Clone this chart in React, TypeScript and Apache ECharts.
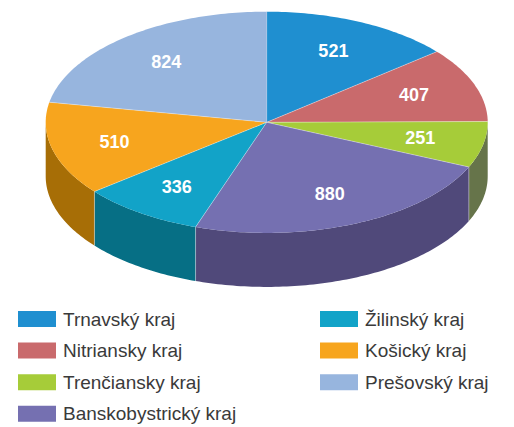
import React, { useEffect, useRef } from "react";
import * as echarts from "echarts";

const categories = [
  "Trnavský kraj",
  "Nitriansky kraj",
  "Trenčiansky kraj",
  "Banskobystrický kraj",
  "Žilinský kraj",
  "Košický kraj",
  "Prešovský kraj",
];
const values = [521, 407, 251, 880, 336, 510, 824];
const topColors = ["#1f8fd0", "#c96a6c", "#a6cc39", "#7570b1", "#12a3c8", "#f7a51e", "#97b5de"];
const sideColors = ["#155f8a", "#864647", "#66744a", "#50497a", "#066f85", "#a76e06", "#64799a"];

const CX = 266.7;
const CY = 122.3;
const RX = 221;
const RY = 110.6;
const DEPTH = 54;
const LABEL_R = 0.71;

const total = values.reduce((a, b) => a + b, 0);
const starts = values.map((_, i) => (values.slice(0, i).reduce((a, b) => a + b, 0) / total) * 2 * Math.PI);

function pt(theta: number, dy = 0): number[] {
  return [CX + RX * Math.sin(theta), CY - RY * Math.cos(theta) + dy];
}

function arc(a0: number, a1: number, dy = 0): number[][] {
  const n = Math.max(2, Math.ceil((a1 - a0) / (Math.PI / 180)));
  const out: number[][] = [];
  for (let k = 0; k <= n; k++) out.push(pt(a0 + ((a1 - a0) * k) / n, dy));
  return out;
}

const edgeStyle = { stroke: "rgba(255,255,255,0.45)", lineWidth: 0.8 };

function makeRender(i: number) {
  return (params: any, api: any) => {
    const v = api.value(0);
    const a0 = starts[i];
    const a1 = a0 + (v / total) * 2 * Math.PI;
    const children: any[] = [];
    const s0 = Math.max(a0, Math.PI / 2);
    const s1 = Math.min(a1, (3 * Math.PI) / 2);
    if (s1 > s0) {
      const upper = arc(s0, s1);
      const lower = arc(s0, s1, DEPTH).reverse();
      children.push({
        type: "polygon",
        shape: { points: upper.concat(lower) },
        style: { fill: sideColors[i] },
      });
      if (a0 >= Math.PI / 2 && a0 <= (3 * Math.PI) / 2) {
        const p = pt(a0);
        children.push({
          type: "line",
          shape: { x1: p[0], y1: p[1], x2: p[0], y2: p[1] + DEPTH },
          style: edgeStyle,
        });
      }
    }
    children.push({
      type: "polygon",
      shape: { points: [[CX, CY]].concat(arc(a0, a1)) },
      style: { fill: topColors[i] },
    });
    const p0 = pt(a0);
    children.push({
      type: "line",
      shape: { x1: CX, y1: CY, x2: p0[0], y2: p0[1] },
      style: edgeStyle,
    });
    const m = (a0 + a1) / 2;
    children.push({
      type: "text",
      x: CX + RX * LABEL_R * Math.sin(m),
      y: CY - RY * LABEL_R * Math.cos(m),
      style: {
        text: String(v),
        fill: "#ffffff",
        font: 'bold 18px "Liberation Sans", Arial, sans-serif',
        align: "center",
        verticalAlign: "middle",
      },
    });
    return { type: "group", children };
  };
}

export default function App() {
  const ref = useRef<HTMLDivElement>(null);
  useEffect(() => {
    document.body.style.margin = "0";
    const chart = echarts.init(ref.current!, null, { renderer: "svg" });
    const legendBase = {
      orient: "vertical",
      icon: "rect",
      itemWidth: 38,
      itemHeight: 16,
      itemGap: 12.6,
      top: 309.5,
      padding: 0,
      textStyle: {
        fontSize: 19,
        lineHeight: 19,
        padding: [0, 0, 0, 2],
        color: "#3a3a3a",
        fontFamily: '"Liberation Sans", Arial, sans-serif',
      },
    };
    chart.setOption({
      animation: false,
      backgroundColor: "#ffffff",
      color: topColors,
      legend: [
        { ...legendBase, left: 18, data: categories.slice(0, 4) },
        { ...legendBase, left: 320, data: categories.slice(4) },
      ],
      series: categories.map((name, i) => ({
        type: "custom",
        name,
        coordinateSystem: "none",
        itemStyle: { color: topColors[i] },
        data: [[values[i]]],
        renderItem: makeRender(i),
      })),
    });
    return () => chart.dispose();
  }, []);
  return <div ref={ref} style={{ width: 514, height: 427 }} />;
}
